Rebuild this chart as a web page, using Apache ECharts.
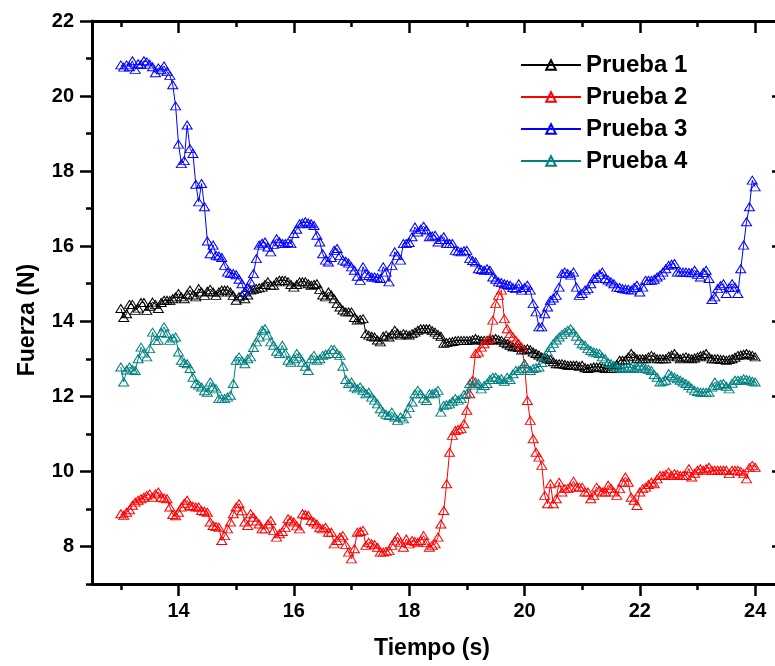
<!DOCTYPE html>
<html>
<head>
<meta charset="utf-8">
<script src="https://cdn.jsdelivr.net/npm/echarts@6/dist/echarts.min.js"></script>
<style>
  html, body { margin: 0; padding: 0; background: #fff; }
  #chart { width: 775px; height: 666px; }
</style>
</head>
<body>
<div id="chart"></div>
<script>
// Sampling times (s)
const tiempo = [
  13.00, 13.05, 13.10, 13.15, 13.20, 13.25, 13.30, 13.35, 13.40, 13.45,
  13.50, 13.55, 13.60, 13.65, 13.70, 13.75, 13.80, 13.85, 13.90, 13.95,
  14.00, 14.05, 14.10, 14.15, 14.20, 14.25, 14.30, 14.35, 14.40, 14.45,
  14.50, 14.55, 14.60, 14.65, 14.70, 14.75, 14.80, 14.85, 14.90, 14.95,
  15.00, 15.05, 15.10, 15.15, 15.20, 15.25, 15.30, 15.35, 15.40, 15.45,
  15.50, 15.55, 15.60, 15.65, 15.70, 15.75, 15.80, 15.85, 15.90, 15.95,
  16.00, 16.05, 16.10, 16.15, 16.20, 16.25, 16.30, 16.35, 16.40, 16.45,
  16.50, 16.55, 16.60, 16.65, 16.70, 16.75, 16.80, 16.85, 16.90, 16.95,
  17.00, 17.05, 17.10, 17.15, 17.20, 17.25, 17.30, 17.35, 17.40, 17.45,
  17.50, 17.55, 17.60, 17.65, 17.70, 17.75, 17.80, 17.85, 17.90, 17.95,
  18.00, 18.05, 18.10, 18.15, 18.20, 18.25, 18.30, 18.35, 18.40, 18.45,
  18.50, 18.55, 18.60, 18.65, 18.70, 18.75, 18.80, 18.85, 18.90, 18.95,
  19.00, 19.05, 19.10, 19.15, 19.20, 19.25, 19.30, 19.35, 19.40, 19.45,
  19.50, 19.55, 19.60, 19.65, 19.70, 19.75, 19.80, 19.85, 19.90, 19.95,
  20.00, 20.05, 20.10, 20.15, 20.20, 20.25, 20.30, 20.35, 20.40, 20.45,
  20.50, 20.55, 20.60, 20.65, 20.70, 20.75, 20.80, 20.85, 20.90, 20.95,
  21.00, 21.05, 21.10, 21.15, 21.20, 21.25, 21.30, 21.35, 21.40, 21.45,
  21.50, 21.55, 21.60, 21.65, 21.70, 21.75, 21.80, 21.85, 21.90, 21.95,
  22.00, 22.05, 22.10, 22.15, 22.20, 22.25, 22.30, 22.35, 22.40, 22.45,
  22.50, 22.55, 22.60, 22.65, 22.70, 22.75, 22.80, 22.85, 22.90, 22.95,
  23.00, 23.05, 23.10, 23.15, 23.20, 23.25, 23.30, 23.35, 23.40, 23.45,
  23.50, 23.55, 23.60, 23.65, 23.70, 23.75, 23.80, 23.85, 23.90, 23.95,
  24.00
];

// Force (N) for each test
const prueba1 = [
  14.34, 14.10, 14.20, 14.45, 14.45, 14.29, 14.35, 14.50, 14.50, 14.29,
  14.40, 14.51, 14.45, 14.34, 14.50, 14.56, 14.56, 14.55, 14.60, 14.65,
  14.74, 14.65, 14.60, 14.72, 14.83, 14.70, 14.65, 14.87, 14.78, 14.69,
  14.80, 14.85, 14.78, 14.69, 14.78, 14.83, 14.83, 14.83, 14.78, 14.69,
  14.56, 14.65, 14.69, 14.60, 14.70, 14.83, 14.85, 14.87, 14.89, 14.91,
  14.98, 15.05, 14.96, 14.96, 15.05, 15.09, 15.09, 15.09, 15.05, 14.98,
  14.91, 14.98, 15.05, 15.05, 15.05, 15.00, 14.96, 14.98, 15.00, 14.85,
  14.70, 14.65, 14.78, 14.70, 14.60, 14.47, 14.38, 14.30, 14.25, 14.25,
  14.25, 14.10, 14.03, 14.05, 14.07, 13.67, 13.63, 13.60, 13.58, 13.50,
  13.45, 13.60, 13.63, 13.58, 13.66, 13.76, 13.68, 13.63, 13.67, 13.65,
  13.63, 13.67, 13.71, 13.76, 13.80, 13.80, 13.80, 13.80, 13.75, 13.71,
  13.65, 13.60, 13.41, 13.43, 13.45, 13.46, 13.48, 13.49, 13.49, 13.49,
  13.49, 13.49, 13.51, 13.54, 13.51, 13.49, 13.49, 13.49, 13.49, 13.52,
  13.54, 13.51, 13.49, 13.44, 13.40, 13.36, 13.32, 13.32, 13.30, 13.23,
  13.25, 13.27, 13.24, 13.18, 13.14, 13.10, 13.05, 13.03, 13.00, 12.98,
  12.92, 12.87, 12.87, 12.87, 12.85, 12.83, 12.83, 12.83, 12.83, 12.80,
  12.83, 12.76, 12.74, 12.76, 12.78, 12.78, 12.78, 12.76, 12.74, 12.74,
  12.74, 12.74, 12.85, 12.96, 12.96, 12.96, 13.05, 13.14, 13.07, 13.00,
  13.00, 13.00, 13.00, 13.05, 13.09, 13.05, 13.00, 13.00, 13.00, 13.00,
  13.07, 13.10, 13.14, 13.05, 13.00, 13.03, 13.05, 13.02, 13.00, 13.02,
  13.05, 13.08, 13.10, 13.14, 13.05, 13.00, 13.00, 13.00, 12.98, 12.98,
  12.96, 12.98, 13.00, 13.04, 13.09, 13.10, 13.12, 13.14, 13.11, 13.09,
  13.05
];

const prueba2 = [
  8.87, 8.83, 8.91, 8.98, 9.10, 9.18, 9.23, 9.27, 9.31, 9.36,
  9.40, 9.31, 9.40, 9.45, 9.31, 9.29, 9.27, 9.05, 8.85, 8.82,
  8.91, 9.05, 9.15, 9.23, 9.09, 9.07, 9.05, 9.05, 8.96, 8.94,
  8.91, 8.65, 8.56, 8.53, 8.51, 8.16, 8.29, 8.47, 8.65, 8.87,
  9.05, 9.14, 8.95, 8.65, 8.56, 8.87, 8.78, 8.68, 8.60, 8.47,
  8.47, 8.60, 8.69, 8.43, 8.25, 8.34, 8.40, 8.51, 8.74, 8.70,
  8.65, 8.55, 8.47, 8.87, 8.85, 8.83, 8.69, 8.65, 8.60, 8.50,
  8.47, 8.51, 8.38, 8.38, 8.07, 8.16, 8.25, 8.29, 8.05, 7.85,
  7.67, 7.94, 8.38, 8.40, 8.43, 8.03, 8.11, 8.07, 8.05, 7.98,
  7.85, 7.85, 7.87, 7.89, 8.03, 8.15, 8.25, 8.11, 7.98, 8.20,
  8.07, 8.16, 8.13, 8.11, 8.16, 8.29, 8.11, 7.98, 8.03, 8.07,
  8.25, 8.60, 8.96, 9.67, 10.51, 10.96, 11.09, 11.12, 11.14, 11.27,
  11.63, 12.07, 12.43, 13.14, 13.18, 13.31, 13.40, 13.49, 13.54, 14.03,
  14.47, 14.69, 14.83, 14.07, 13.80, 13.67, 13.58, 13.49, 13.40, 13.31,
  12.87, 11.89, 11.36, 10.87, 10.51, 10.38, 10.16, 9.36, 9.14, 9.67,
  9.14, 9.27, 9.71, 9.45, 9.54, 9.54, 9.58, 9.74, 9.58, 9.58,
  9.58, 9.45, 9.45, 9.27, 9.36, 9.58, 9.50, 9.45, 9.45, 9.63,
  9.55, 9.45, 9.36, 9.54, 9.71, 9.85, 9.71, 9.31, 9.23, 9.09,
  9.45, 9.54, 9.58, 9.65, 9.71, 9.67, 9.80, 9.89, 9.89, 9.92,
  9.98, 9.89, 9.94, 9.92, 9.89, 9.89, 9.89, 10.07, 9.85, 9.95,
  10.03, 10.07, 10.03, 10.07, 10.11, 10.03, 10.03, 10.03, 10.03, 10.03,
  10.03, 9.94, 10.03, 10.03, 10.03, 10.00, 9.94, 9.80, 10.10, 10.16,
  10.11
];

const prueba3 = [
  20.83, 20.77, 20.83, 20.78, 20.94, 20.71, 20.86, 20.84, 20.94, 20.91,
  20.85, 20.78, 20.62, 20.75, 20.70, 20.80, 20.65, 20.55, 20.30, 19.74,
  18.72, 18.20, 18.28, 19.23, 18.60, 18.47, 17.65, 17.18, 17.67, 17.05,
  16.14, 15.80, 16.03, 15.76, 15.74, 15.70, 15.49, 15.31, 15.28, 15.27,
  15.24, 15.12, 15.00, 14.78, 14.90, 15.05, 15.27, 15.67, 16.03, 16.08,
  16.11, 15.98, 15.85, 16.05, 16.20, 16.12, 16.07, 16.07, 16.10, 16.07,
  16.34, 16.45, 16.60, 16.62, 16.65, 16.62, 16.60, 16.55, 16.29, 16.11,
  15.80, 15.63, 15.58, 15.70, 15.89, 15.94, 15.75, 15.63, 15.60, 15.55,
  15.45, 15.36, 15.20, 15.09, 15.45, 15.27, 15.22, 15.18, 15.18, 15.16,
  15.14, 15.45, 15.31, 15.05, 15.49, 15.85, 15.75, 15.63, 16.07, 16.07,
  16.10, 16.25, 16.51, 16.38, 16.45, 16.53, 16.43, 16.25, 16.27, 16.29,
  16.11, 16.18, 16.25, 16.07, 16.07, 16.07, 15.89, 15.87, 15.85, 15.88,
  15.89, 15.67, 15.62, 15.58, 15.40, 15.38, 15.36, 15.40, 15.36, 15.18,
  15.12, 15.05, 15.03, 15.00, 14.98, 14.96, 14.90, 14.87, 15.00, 14.83,
  14.90, 14.96, 14.83, 14.47, 14.25, 13.85, 13.85, 14.20, 14.38, 14.56,
  14.62, 14.69, 14.91, 15.27, 15.31, 15.27, 15.23, 15.31, 14.91, 14.69,
  14.74, 14.83, 14.87, 15.00, 15.14, 15.18, 15.25, 15.31, 15.14, 15.10,
  15.05, 15.00, 14.91, 14.90, 14.87, 14.86, 14.85, 14.83, 14.90, 14.96,
  14.78, 14.91, 15.09, 15.09, 15.09, 15.12, 15.18, 15.23, 15.31, 15.40,
  15.49, 15.52, 15.54, 15.31, 15.31, 15.31, 15.31, 15.30, 15.29, 15.36,
  15.25, 15.18, 15.30, 15.36, 15.14, 14.58, 14.65, 14.87, 14.95, 15.00,
  14.74, 14.90, 15.00, 14.91, 14.74, 15.40, 16.03, 16.65, 17.05, 17.76,
  17.58
];

const prueba4 = [
  12.78, 12.38, 12.70, 12.78, 12.72, 12.69, 13.00, 13.31, 13.15, 13.05,
  13.27, 13.71, 13.49, 13.49, 13.70, 13.85, 13.67, 13.49, 13.55, 13.58,
  13.18, 12.96, 12.90, 12.87, 12.74, 12.51, 12.34, 12.30, 12.25, 12.15,
  12.11, 12.38, 12.25, 12.20, 11.94, 11.94, 11.94, 11.98, 12.03, 12.34,
  12.96, 13.05, 12.95, 12.87, 13.00, 13.05, 13.30, 13.45, 13.58, 13.76,
  13.80, 13.63, 13.45, 13.36, 13.20, 13.14, 13.36, 13.15, 12.96, 12.91,
  13.00, 13.14, 13.05, 12.91, 12.80, 12.69, 13.00, 13.09, 12.96, 13.00,
  13.09, 13.12, 13.14, 13.25, 13.25, 13.14, 13.09, 12.80, 12.45, 12.34,
  12.38, 12.25, 12.20, 12.25, 12.16, 12.07, 12.11, 11.98, 11.90, 11.80,
  11.67, 11.58, 11.52, 11.49, 11.58, 11.45, 11.36, 11.45, 11.40, 11.54,
  11.70, 11.85, 12.07, 12.16, 12.07, 11.95, 11.89, 12.07, 12.07, 12.10,
  12.16, 11.58, 11.76, 11.78, 11.80, 11.87, 11.94, 11.90, 11.94, 12.05,
  12.07, 12.34, 12.30, 12.38, 12.34, 12.20, 12.29, 12.34, 12.45, 12.51,
  12.51, 12.45, 12.47, 12.40, 12.51, 12.45, 12.60, 12.69, 12.69, 12.75,
  12.87, 12.75, 12.69, 12.74, 12.76, 12.78, 12.90, 13.05, 13.18, 13.30,
  13.41, 13.50, 13.58, 13.65, 13.71, 13.76, 13.80, 13.71, 13.60, 13.49,
  13.40, 13.36, 13.27, 13.22, 13.18, 13.16, 13.14, 13.05, 13.00, 12.90,
  12.87, 12.82, 12.78, 12.76, 12.74, 12.76, 12.78, 12.76, 12.74, 12.78,
  12.83, 12.78, 12.74, 12.72, 12.69, 12.58, 12.51, 12.38, 12.40, 12.43,
  12.60, 12.55, 12.51, 12.47, 12.43, 12.38, 12.34, 12.29, 12.22, 12.16,
  12.13, 12.11, 12.11, 12.11, 12.11, 12.25, 12.38, 12.29, 12.32, 12.34,
  12.27, 12.20, 12.35, 12.43, 12.43, 12.43, 12.47, 12.45, 12.43, 12.40,
  12.38
];

const nombres = ['Prueba 1', 'Prueba 2', 'Prueba 3', 'Prueba 4'];
const colores = ['#000000', '#ff0000', '#0000ff', '#008080'];

// Tick positions
const xMajor = [14, 16, 18, 20, 22, 24];
const xMinor = [13, 15, 17, 19, 21, 23];
const yMajor = [8, 10, 12, 14, 16, 18, 20, 22];
const yMinor = [7, 9, 11, 13, 15, 17, 19, 21];

const FONT = '"Liberation Sans", Arial, Helvetica, sans-serif';

function pairs(values) {
  return values.map((v, i) => [tiempo[i], v]);
}

function xAxisDef(position, ticks, len, inside, withLine, withLabels) {
  return {
    type: 'value', min: 12.5, max: 24.5, position: position,
    splitLine: { show: false },
    axisLine: { show: withLine, onZero: false, lineStyle: { color: '#000', width: 3 } },
    axisTick: { show: true, inside: inside, length: len, customValues: ticks,
                lineStyle: { color: '#000', width: 2.5 } },
    axisLabel: withLabels
      ? { show: true, customValues: ticks, margin: 17, color: '#000',
          fontFamily: FONT, fontWeight: 'bold', fontSize: 20 }
      : { show: false },
    minorTick: { show: false }
  };
}

function yAxisDef(position, ticks, len, inside, withLine, withLabels) {
  return {
    type: 'value', min: 7, max: 22, position: position,
    splitLine: { show: false },
    axisLine: { show: withLine, onZero: false, lineStyle: { color: '#000', width: 3 } },
    axisTick: { show: true, inside: inside, length: len, customValues: ticks,
                lineStyle: { color: '#000', width: 2.5 } },
    axisLabel: withLabels
      ? { show: true, customValues: ticks, margin: 18, color: '#000',
          fontFamily: FONT, fontWeight: 'bold', fontSize: 20 }
      : { show: false },
    minorTick: { show: false }
  };
}

const series = [prueba1, prueba2, prueba3, prueba4].map((vals, k) => ({
  name: nombres[k],
  type: 'line',
  xAxisIndex: 0,
  yAxisIndex: 0,
  data: pairs(vals),
  symbol: 'triangle',
  symbolSize: [10, 8],
  showAllSymbol: true,
  lineStyle: { color: colores[k], width: 1 },
  itemStyle: { color: 'rgba(255,255,255,0)', borderColor: colores[k], borderWidth: 1 },
  emphasis: { disabled: true },
  clip: true
}));

const chart = echarts.init(document.getElementById('chart'), null, { renderer: 'canvas' });
chart.setOption({
  animation: false,
  backgroundColor: '#ffffff',
  // the frame runs slightly past the right edge of the canvas
  grid: { left: 92, top: 21, width: 692, height: 563, containLabel: false,
          outerBoundsMode: 'none' },
  xAxis: [
    xAxisDef('bottom', xMajor, 12, false, true, true),
    xAxisDef('bottom', xMinor, 6, false, false, false),
    xAxisDef('top', xMajor, 12, true, true, false),
    xAxisDef('top', xMinor, 6, true, false, false)
  ],
  yAxis: [
    yAxisDef('left', yMajor, 12, false, true, true),
    yAxisDef('left', yMinor, 6, false, false, false),
    yAxisDef('right', yMajor, 12, true, true, false),
    yAxisDef('right', yMinor, 6, true, false, false)
  ],
  legend: {
    orient: 'vertical',
    left: 520,
    top: 53,
    padding: 0,
    itemWidth: 60,
    itemHeight: 12,
    itemGap: 8,
    data: nombres,
    textStyle: { color: '#000', fontFamily: FONT, fontWeight: 'bold', fontSize: 24, lineHeight: 22 }
  },
  graphic: [
    {
      type: 'text', x: 432, y: 649,
      style: { text: 'Tiempo (s)', fill: '#000', font: 'bold 23px ' + FONT,
               align: 'center', verticalAlign: 'middle' }
    },
    {
      type: 'text', x: 28, y: 320, rotation: Math.PI / 2,
      style: { text: 'Fuerza (N)', fill: '#000', font: 'bold 23px ' + FONT,
               align: 'center', verticalAlign: 'middle' }
    }
  ],
  series: series
});
</script>
</body>
</html>
